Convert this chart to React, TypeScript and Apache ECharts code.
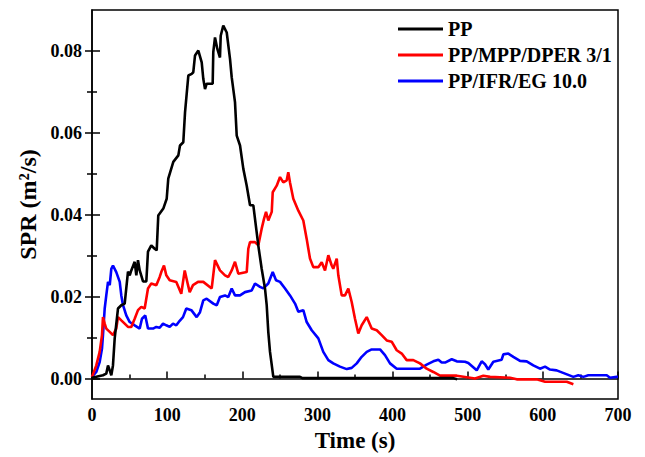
import React, { useEffect, useRef } from "react";
import * as echarts from "echarts";

const seriesNames = ["PP", "PP/MPP/DPER 3/1", "PP/IFR/EG 10.0"];
const seriesColors = ["#000000", "#ff0000", "#0000ff"];

const xTickLabels = [0, 100, 200, 300, 400, 500, 600, 700];
const yMajorTicks = [0, 0.02, 0.04, 0.06, 0.08];
const yMinorTicks = [0.01, 0.03, 0.05, 0.07];

const ppTime = [0, 14.6, 19, 21.3, 23.6, 25.7, 27.9, 30.2, 34.6, 39, 43.5, 45.6, 47.9, 50.2, 52.3, 56.8, 59, 61.2, 63.5, 67.9, 72.3, 74.5, 78.9, 83.4, 86.1, 88.2, 94.9, 99.4, 101.5, 108.2, 114.9, 117.1, 121.5, 123.8, 128.2, 132.7, 134.8, 137.1, 141.5, 146, 148.1, 150.4, 152.6, 160.6, 161.4, 163.7, 166.8, 170.3, 171.3, 174.7, 179.3, 183.7, 185.9, 190.3, 192.6, 197, 201.4, 205.9, 210.3, 214.7, 221.3, 225.8, 230.2, 232.5, 234.6, 236.9, 241.3, 276.8, 280, 480, 486];
const ppSpr = [0.0002, 0.0008, 0.0012, 0.0032, 0.002, 0.0008, 0.0032, 0.0098, 0.0171, 0.0179, 0.0183, 0.022, 0.0261, 0.0252, 0.0264, 0.0285, 0.0252, 0.0289, 0.0264, 0.0237, 0.0237, 0.031, 0.0325, 0.0317, 0.0313, 0.0398, 0.0415, 0.0439, 0.0488, 0.0529, 0.0545, 0.0569, 0.0577, 0.065, 0.074, 0.0744, 0.0748, 0.0789, 0.0801, 0.0772, 0.0732, 0.0707, 0.072, 0.072, 0.0797, 0.0833, 0.0805, 0.0784, 0.0837, 0.0862, 0.0845, 0.078, 0.0736, 0.0675, 0.0593, 0.0569, 0.0512, 0.0471, 0.0423, 0.0423, 0.0325, 0.0268, 0.022, 0.0179, 0.0114, 0.0065, 0.0004, 0.0004, 0.0001, 0.0001, -0.0002];

const mppTime = [0, 5.7, 10.2, 13.3, 14.6, 16.9, 19, 23.6, 27.9, 32.3, 34.6, 39, 43.5, 47.9, 52.3, 56.8, 61.2, 65.6, 70.1, 74.5, 78.9, 85.6, 90.1, 92.2, 95.8, 98.9, 103.4, 112.2, 118.8, 123.4, 127.8, 130, 134.4, 141.1, 148.1, 159.3, 163.7, 170.3, 177, 181.4, 185.9, 190.3, 194.7, 205.9, 208, 210.3, 216.9, 221.3, 225.8, 228.9, 231.6, 234.6, 239.2, 240.5, 245.8, 250.2, 254.6, 259.1, 261.2, 263.5, 267.9, 274.6, 281.2, 285.7, 287.9, 290.1, 294.5, 301.2, 305.7, 310.1, 314.5, 319, 321.1, 325.7, 327.8, 332.3, 336.7, 341.1, 345.6, 350, 354.4, 358.9, 365.6, 372.2, 378.9, 385.5, 392.2, 398.8, 405.5, 412.2, 418.8, 427.6, 436.5, 445.4, 454.2, 463.1, 485.4, 509.7, 520.8, 529.7, 556.3, 565.2, 591.8, 602.9, 631.8, 640.6];
const mppSpr = [0.0004, 0.0032, 0.0065, 0.0106, 0.015, 0.0134, 0.0122, 0.0114, 0.0106, 0.0122, 0.015, 0.0142, 0.0134, 0.0126, 0.0126, 0.0146, 0.0167, 0.0175, 0.0171, 0.022, 0.0232, 0.0228, 0.0248, 0.026, 0.0276, 0.0252, 0.024, 0.0236, 0.0207, 0.0264, 0.0228, 0.0211, 0.0228, 0.0236, 0.0236, 0.022, 0.0289, 0.0264, 0.0252, 0.0248, 0.0264, 0.0285, 0.0256, 0.026, 0.0317, 0.0333, 0.0333, 0.0325, 0.0366, 0.039, 0.0407, 0.0386, 0.0407, 0.0455, 0.0471, 0.0492, 0.0479, 0.0484, 0.0504, 0.0479, 0.0439, 0.041, 0.0386, 0.0341, 0.0317, 0.0293, 0.0272, 0.0272, 0.0284, 0.0264, 0.0301, 0.0276, 0.0268, 0.0293, 0.0252, 0.0203, 0.0203, 0.022, 0.0187, 0.0146, 0.011, 0.013, 0.015, 0.0122, 0.0118, 0.0106, 0.0093, 0.009, 0.0069, 0.0061, 0.0045, 0.0045, 0.0037, 0.0024, 0.0016, 0.0007, 0.0007, 0.0, 0.0007, 0.0004, 0.0002, -0.0002, -0.0002, -0.0008, -0.0008, -0.0014];

const ifrTime = [0, 5.7, 10.2, 13.3, 14.6, 16.9, 19, 21.3, 23.6, 25.7, 27.9, 32.3, 36.9, 39, 41.3, 45.6, 50.2, 56.8, 63.5, 66.5, 70.9, 74.5, 81.2, 85.6, 90.1, 94.5, 98.9, 103.4, 107.8, 112.2, 116.7, 121.1, 125.5, 132.2, 139.3, 143.7, 148.1, 152.6, 161.4, 166, 170.3, 177, 181.4, 185.9, 190.3, 197, 203.6, 212.5, 216.9, 223.6, 228, 234.6, 240.5, 244.9, 250.2, 256.9, 263.5, 270.2, 274.6, 281.2, 285.7, 292.4, 301.2, 307.8, 314.5, 321.1, 330, 339, 345.6, 352.3, 358.9, 365.6, 372.2, 383.3, 389.9, 396.6, 405.5, 436.5, 445.4, 454.2, 460.9, 465.4, 469.8, 478.7, 485.4, 496.4, 500.8, 512, 518.6, 523, 527.4, 534.1, 545.2, 547.4, 554, 560.7, 569.6, 578.5, 587.3, 596.2, 602.9, 609.5, 618.4, 629.5, 640.6, 647.2, 653.9, 660.5, 685, 689.4, 698.3, 700];
const ifrSpr = [0.0004, 0.0016, 0.004, 0.0073, 0.0106, 0.0171, 0.0203, 0.0236, 0.0228, 0.0268, 0.0276, 0.026, 0.0236, 0.0203, 0.0179, 0.0154, 0.0138, 0.013, 0.0122, 0.0146, 0.0154, 0.0122, 0.0122, 0.0126, 0.0124, 0.0134, 0.013, 0.0126, 0.0134, 0.013, 0.0141, 0.015, 0.0171, 0.0167, 0.015, 0.0162, 0.0191, 0.0195, 0.0183, 0.0179, 0.0199, 0.0203, 0.0199, 0.022, 0.0203, 0.0203, 0.0211, 0.0215, 0.0232, 0.0224, 0.022, 0.0232, 0.026, 0.024, 0.0236, 0.022, 0.0203, 0.0183, 0.0163, 0.0167, 0.0138, 0.0118, 0.0098, 0.0065, 0.0045, 0.0037, 0.0029, 0.0023, 0.0026, 0.0037, 0.0053, 0.0065, 0.0071, 0.0071, 0.0057, 0.0037, 0.0024, 0.0024, 0.0034, 0.0042, 0.0046, 0.0039, 0.0039, 0.0047, 0.0042, 0.0041, 0.0038, 0.002, 0.0042, 0.0035, 0.0022, 0.0041, 0.0046, 0.0059, 0.0061, 0.0053, 0.0043, 0.0042, 0.0032, 0.0024, 0.0029, 0.0022, 0.002, 0.0012, 0.0004, 0.0008, 0.0004, 0.0008, 0.0008, 0.0002, 0.0004, 0.0004];

const zip = (t: number[], v: number[]) => t.map((x, i) => [x, v[i]]);

const FONT = "'Liberation Serif', 'Times New Roman', serif";

export default function App() {
  const ref = useRef<HTMLDivElement>(null);
  useEffect(() => {
    if (!ref.current) return;
    const chart = echarts.init(ref.current, null, { renderer: "svg" });
    const yBase = {
      type: "value" as const,
      min: -0.005,
      max: 0.09,
      position: "left" as const,
      splitLine: { show: false },
    };
    const hiddenY = (vals: number[], inside: boolean, len: number) => ({
      ...yBase,
      axisLine: { show: false },
      axisLabel: { show: false },
      axisTick: {
        show: true,
        inside,
        length: len,
        customValues: vals,
        lineStyle: { color: "#000", width: 1.5 },
      },
    });
    chart.setOption({
      animation: false,
      backgroundColor: "#ffffff",
      grid: {
        left: 92,
        right: 27,
        top: 10,
        bottom: 57,
        show: true,
        borderColor: "#000",
        borderWidth: 1.5,
        backgroundColor: "transparent",
      },
      legend: {
        orient: "vertical",
        left: 393,
        top: 14,
        itemWidth: 45,
        itemHeight: 3,
        itemGap: 6,
        icon: "rect",
        data: seriesNames,
        textStyle: {
          fontFamily: FONT,
          fontWeight: "bold",
          fontSize: 20,
          color: "#000",
        },
      },
      xAxis: {
        type: "value",
        min: 0,
        max: 700,
        interval: 100,
        name: "Time (s)",
        nameLocation: "middle",
        nameGap: 30,
        nameTextStyle: {
          fontFamily: FONT,
          fontWeight: "bold",
          fontSize: 23,
          color: "#000",
        },
        axisLine: { show: true, lineStyle: { color: "#000", width: 1.5 } },
        axisTick: {
          show: true,
          inside: true,
          length: 7,
          lineStyle: { color: "#000", width: 1.5 },
        },
        minorTick: {
          show: true,
          splitNumber: 2,
          length: 4,
          lineStyle: { color: "#000", width: 1.5 },
        },
        axisLabel: {
          margin: 7,
          fontFamily: FONT,
          fontWeight: "bold",
          fontSize: 18,
          color: "#000",
          customValues: xTickLabels,
        },
        splitLine: { show: false },
      },
      yAxis: [
        {
          ...yBase,
          name: "SPR (m²/s)",
          nameLocation: "middle",
          nameGap: 52,
          nameRotate: 90,
          nameTextStyle: {
            fontFamily: FONT,
            fontWeight: "bold",
            fontSize: 24,
            color: "#000",
          },
          axisLine: { show: true, lineStyle: { color: "#000", width: 1.5 } },
          axisTick: {
            show: true,
            inside: true,
            length: 8,
            customValues: yMajorTicks,
            lineStyle: { color: "#000", width: 1.5 },
          },
          axisLabel: {
            margin: 10,
            fontFamily: FONT,
            fontWeight: "bold",
            fontSize: 18,
            color: "#000",
            customValues: yMajorTicks,
            formatter: (v: number) => v.toFixed(2),
          },
        },
        hiddenY(yMinorTicks, true, 5),
        hiddenY(yMajorTicks, false, 7),
        hiddenY(yMinorTicks, false, 5),
      ],
      series: [
        { t: ppTime, v: ppSpr },
        { t: mppTime, v: mppSpr },
        { t: ifrTime, v: ifrSpr },
      ].map((s, i) => ({
        name: seriesNames[i],
        type: "line",
        yAxisIndex: 0,
        data: zip(s.t, s.v),
        showSymbol: false,
        symbol: "none",
        color: seriesColors[i],
        lineStyle: { color: seriesColors[i], width: 2.6 },
        z: 3 - i,
      })),
    });
    return () => chart.dispose();
  }, []);
  return <div ref={ref} style={{ width: 645, height: 457, position: "absolute", left: 0, top: 0 }} />;
}
